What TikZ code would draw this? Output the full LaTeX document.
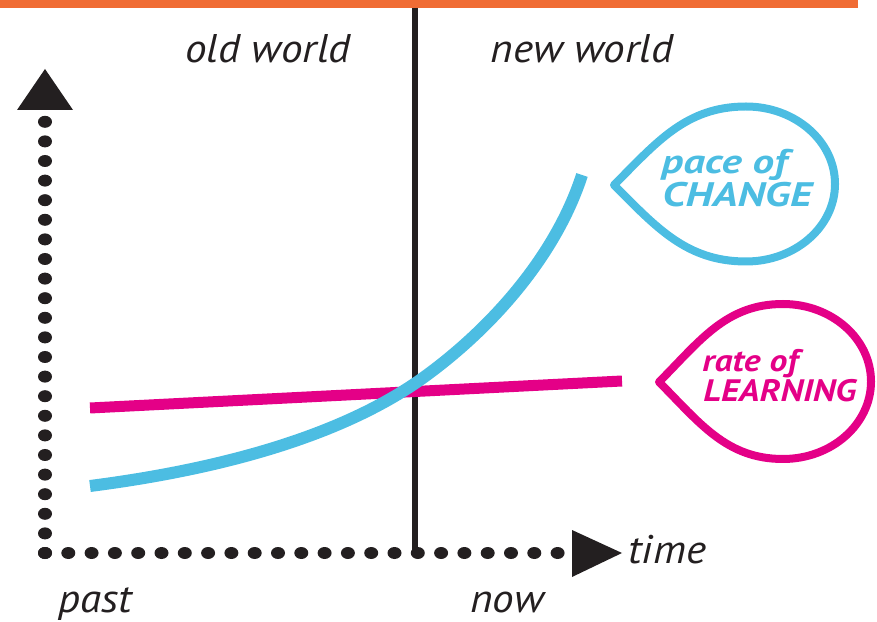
\documentclass[tikz,border=0pt]{standalone}
\usepackage{fontspec}
\setmainfont{PT Sans}
\newfontfamily\labelfont[FakeStretch=1.08]{PT Sans}
\newfontfamily\changefont[FakeStretch=1.27]{PT Sans}
\newfontfamily\learnfont[FakeStretch=1.15]{PT Sans}
\definecolor{barorange}{RGB}{240,108,52}
\definecolor{changeblue}{RGB}{76,189,226}
\definecolor{learnpink}{RGB}{228,0,135}
\definecolor{inkblack}{RGB}{35,31,32}

\begin{document}
\begin{tikzpicture}[
    x=0.5pt, y=0.5pt,
    axislabel/.style={font=\labelfont\itshape\fontsize{20}{24}\selectfont, text=inkblack, anchor=base, inner sep=0pt},
    changelabel/.style={font=\changefont\bfseries\itshape\fontsize{17}{20}\selectfont, text=changeblue, anchor=base west, inner sep=0pt},
    learnlabel/.style={font=\learnfont\bfseries\itshape\fontsize{15.5}{20}\selectfont, text=learnpink, anchor=base west, inner sep=0pt},
    bubble/.style={line width=4pt, line join=round},
    axisdot/.style={fill=inkblack},
    axishead/.style={fill=inkblack},
    divider/.style={draw=inkblack, line width=3pt}
]
\useasboundingbox (0,0) rectangle (877,621);

% top bar
\fill[barorange] (0,613) rectangle (858,621);

% axes
\coordinate (origin) at (45,68);
\coordinate (ytip) at (45,552);
\coordinate (xtip) at (622,68);
\foreach \i in {0,...,22} {
    \fill[axisdot] (45,68+\i*19.6) ellipse [x radius=7, y radius=6];
    \fill[axisdot] (45+\i*23.3,68) ellipse [x radius=7, y radius=6];
}
\fill[axishead] (17,511) -- (ytip) -- (73,511) -- cycle;
\fill[axishead] (572,91) -- (xtip) -- (572,44) -- cycle;

% old / new divider
\coordinate (divtop) at (415,613);
\draw[divider] (divtop) -- (origin -| divtop);

% rate of learning
\coordinate (learnstart) at (90,213);
\coordinate (learnend) at (622,240);
\draw[learnpink, line width=5.5pt] (learnstart) -- (learnend);

% pace of change
\coordinate (changestart) at (90,135);
\coordinate (changemid) at (420,241);
\coordinate (changeend) at (582,446);
\draw[changeblue, line width=6pt] (changestart)
    .. controls (199,149) and (330,178) .. (changemid)
    .. controls (485,287) and (554,360) .. (changeend);

% callouts
\coordinate (changetip) at (614,436);
\draw[bubble, changeblue] (changetip) to[out=45, in=180] (746,514.5)
    arc[start angle=90, end angle=-90, x radius=89, y radius=77.5]
    to[out=180, in=-45] (changetip) -- cycle;
\node (pace) [changelabel] at (661,447) {pace of};
\node (change) [changelabel] at (662,414) {CHANGE};

\coordinate (learntip) at (659,239);
\draw[bubble, learnpink] (learntip) to[out=45, in=180] (783,317)
    arc[start angle=90, end angle=-90, x radius=88, y radius=77.5]
    to[out=180, in=-45] (learntip) -- cycle;
\node (rate) [learnlabel] at (702,249) {rate of};
\node (learning) [learnlabel] at (703,219) {LEARNING};

% labels
\node (oldworld) [axislabel] at (268,558) {old world};
\node (newworld) [axislabel] at (582,558) {new world};
\node (time) [axislabel, anchor=base west] at (628,58) {time};
\node (past) [axislabel, anchor=base west] at (58,9) {past};
\node (now) [axislabel, anchor=base west] at (470,9) {now};

\end{tikzpicture}
\end{document}
